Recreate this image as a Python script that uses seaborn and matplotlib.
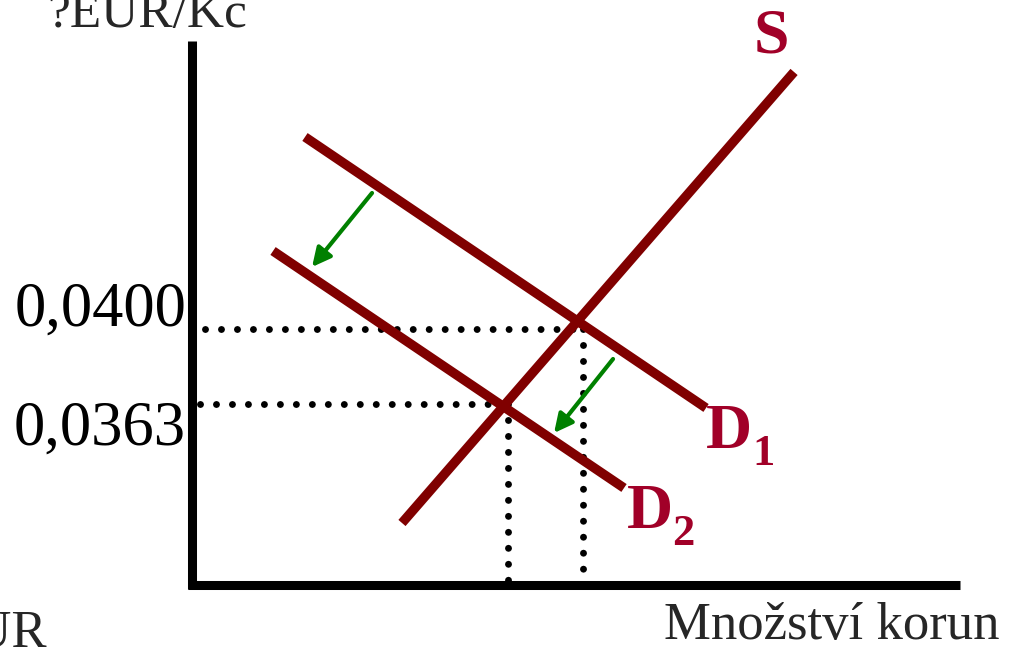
import numpy as np
import pandas as pd
import seaborn as sns
import matplotlib.pyplot as plt

# supply / demand segments (quantity, price EUR/Kc)
s_q = [27.34, 78.39]
s_p = [0.03043, 0.05268]
d1_q = [14.71, 66.93]
d1_p = [0.049472, 0.036103]
d2_q = [10.55, 56.25]
d2_p = [0.043848, 0.032156]

# equilibrium prices and quantities
eq_price = [0.0400, 0.0363]
eq_qty = [50.91, 41.15]
tick_labels = ['0,0400', '0,0363']

# shift arrows (start q, start p, end q, end p)
arrow_q0 = [23.44, 54.82]
arrow_p0 = [0.046709, 0.038520]
arrow_q1 = [15.63, 47.14]
arrow_p1 = [0.043059, 0.034869]

line_red = '#800000'
label_red = '#A10028'

sns.set_style('white')
plt.rcParams['font.family'] = ['Liberation Serif', 'DejaVu Serif']

fig = plt.figure(figsize=(10.2, 6.52), dpi=100)
ax = fig.add_axes([0, 0, 1, 1])
ax.set_xlim(-25, 107.81)
ax.set_ylim(0.024065, 0.05623)
ax.axis('off')

# dotted guide lines
dots = dict(color='black', lw=5.0, linestyle=(0, (0.001, 2.3)), dash_capstyle='round')
q_floor = 0.027617
for p, q, q_start in zip(eq_price, eq_qty, [1.69, 1.04]):
    ax.plot([q_start, q], [p, p], **dots)
    ax.plot([q, q], [p, q_floor], **dots)

# curves
lines = pd.DataFrame({
    'q': s_q + d1_q + d2_q,
    'p': s_p + d1_p + d2_p,
    'curve': ['S'] * 2 + ['D1'] * 2 + ['D2'] * 2,
})
for name, grp in lines.groupby('curve'):
    sns.lineplot(data=grp, x='q', y='p', ax=ax, color=line_red, linewidth=6.8,
                 estimator=None, sort=False, solid_capstyle='butt')

# axes lines
ax.plot([0, 0], [0.05421, 0.02718], color='black', lw=6.5, solid_capstyle='butt')
ax.plot([-0.55, 100], [0.02737, 0.02737], color='black', lw=6.5, solid_capstyle='butt')

# arrows
for qa, pa, qb, pb in zip(arrow_q0, arrow_p0, arrow_q1, arrow_p1):
    ax.annotate('', xy=(qb, pb), xytext=(qa, pa),
                arrowprops=dict(arrowstyle='-|>', color='#008000', lw=3,
                                mutation_scale=28, shrinkA=0, shrinkB=0))

# price labels
for p, lab, dy in zip(eq_price, tick_labels, [0.00018, -0.00202]):
    ax.text(-0.78, p + dy, lab, ha='right', va='baseline', fontsize=45, color='black')

# curve labels
ax.text(75.39, 0.053616, 'S', ha='center', va='baseline', fontsize=46,
        fontweight='bold', color=label_red)
ax.text(66.9, 0.034129, 'D', ha='left', va='baseline', fontsize=46,
        fontweight='bold', color=label_red)
ax.text(72.9, 0.033291, '1', ha='left', va='baseline', fontsize=32,
        fontweight='bold', color=label_red)
ax.text(56.6, 0.030183, 'D', ha='left', va='baseline', fontsize=46,
        fontweight='bold', color=label_red)
ax.text(62.5, 0.029344, '2', ha='left', va='baseline', fontsize=32,
        fontweight='bold', color=label_red)

# axis titles
ax.text(-18.9, 0.054899, '?EUR/Kc', ha='left', va='baseline', fontsize=37)
ax.text(61.5, 0.024707, 'Množství korun', ha='left', va='baseline', fontsize=38)
ax.text(-18.9, 0.024313, 'EUR', ha='right', va='baseline', fontsize=38)

fig.savefig('out.png', dpi=100)
